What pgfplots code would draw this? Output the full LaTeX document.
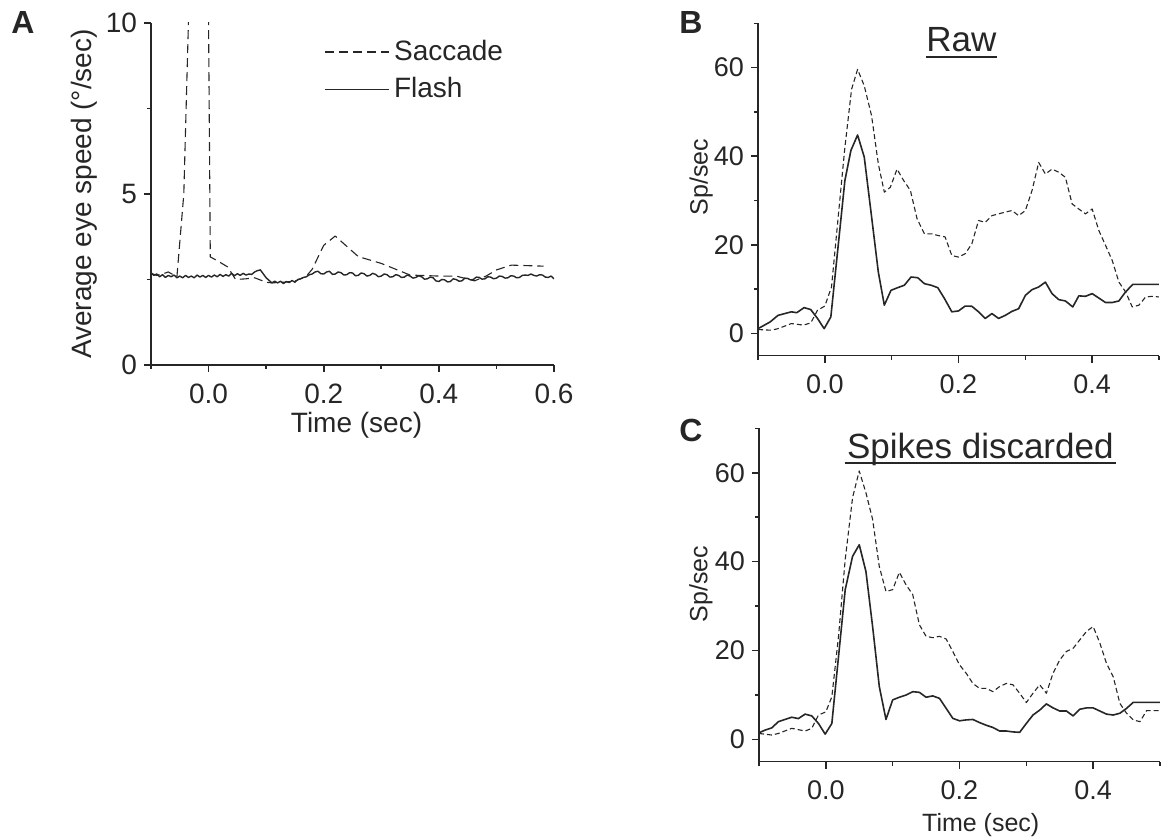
\documentclass[border=0pt]{standalone}
\usepackage{fontspec}
\setmainfont{Liberation Sans}
\usepackage{pgfplots}
\pgfplotsset{compat=1.18}
\definecolor{ink}{HTML}{262626}
\pgfplotsset{
  panel/.style={
    scale only axis,
    anchor=south west,
    axis lines=left,
    axis line style={-, line width=0.8pt, ink},
    tick align=outside,
    major tick length=3.5pt,
    minor tick length=2pt,
    tick style={ink, line width=0.8pt},
    /pgf/number format/assume math mode=true,
    xticklabel style={yshift=-2.5pt, /pgf/number format/.cd, fixed, fixed zerofill, precision=1},
    yticklabel style={/pgf/number format/.cd, fixed, precision=0},
    legend image code/.code={\draw[#1] (0pt,0pt) -- (32pt,0pt);},
  },
  sacA/.style={ink, line width=0.55pt, dash pattern=on 4.5pt off 2.5pt, line join=round},
  flaA/.style={ink, line width=0.7pt, line join=round},
  sacB/.style={ink, line width=0.55pt, dash pattern=on 2.5pt off 1.5pt, line join=round},
  flaB/.style={ink, line width=0.8pt, line join=round},
}
\begin{document}
\begin{tikzpicture}
\useasboundingbox (0,0) rectangle (584.5pt,420pt);

% ---------------- Panel A ----------------
\begin{axis}[panel,
  at={(75.5pt,237.5pt)}, width=201.5pt, height=171pt,
  xmin=-0.1, xmax=0.6, ymin=0, ymax=10,
  xtick={0,0.2,0.4,0.6}, minor xtick={-0.1,0.1,0.3,0.5},
  ytick={0,5,10}, minor ytick={2.5,7.5},
  ticklabel style={font=\fontsize{14}{16}\selectfont, text=ink},
  xlabel={Time (sec)}, ylabel={Average eye speed (°/sec)},
  label style={font=\fontsize{14}{16}\selectfont, text=ink},
  xlabel style={at={(axis description cs:0.51,-0.176)}, anchor=center},
  ylabel style={at={(axis description cs:-0.165,0.5)}, anchor=center},
  legend style={at={(axis description cs:0.43,0.962)}, anchor=north west,
    draw=none, fill=none, inner sep=0pt, row sep=3pt,
    font=\fontsize{14}{16}\selectfont, text=ink,
    /tikz/every even column/.append style={column sep=3pt}},
  legend cell align=left,
]
\addplot[sacA] table {
-0.100 2.68
-0.090 2.62
-0.080 2.66
-0.070 2.72
-0.055 2.58
-0.043 5.0
-0.035 10.0
-0.020 30
-0.005 30
0.000 10
0.003 3.16
0.015 3.05
0.033 2.87
0.047 2.50
0.065 2.52
0.080 2.55
0.100 2.42
0.110 2.40
0.130 2.42
0.150 2.45
0.170 2.60
0.180 2.80
0.200 3.50
0.220 3.77
0.260 3.17
0.300 2.97
0.350 2.63
0.400 2.60
0.430 2.60
0.462 2.46
0.482 2.60
0.500 2.78
0.526 2.92
0.582 2.89
};
\addlegendentry{Saccade}
\addplot[flaA] table {
-0.100 2.70
-0.095 2.62
-0.090 2.66
-0.085 2.58
-0.080 2.64
-0.075 2.56
-0.070 2.62
-0.065 2.58
-0.060 2.63
-0.055 2.55
-0.050 2.60
-0.045 2.55
-0.040 2.62
-0.035 2.56
-0.030 2.60
-0.025 2.55
-0.020 2.63
-0.015 2.57
-0.010 2.62
-0.005 2.56
0.000 2.62
0.005 2.57
0.010 2.63
0.015 2.58
0.020 2.65
0.025 2.59
0.030 2.64
0.035 2.60
0.040 2.68
0.045 2.61
0.050 2.67
0.055 2.62
0.060 2.68
0.065 2.63
0.070 2.66
0.075 2.65
0.080 2.72
0.085 2.76
0.090 2.78
0.100 2.55
0.110 2.40
0.115 2.45
0.120 2.40
0.125 2.45
0.130 2.38
0.135 2.44
0.140 2.41
0.145 2.47
0.150 2.42
0.155 2.50
0.160 2.52
0.165 2.56
0.170 2.58
0.175 2.64
0.180 2.66
0.185 2.72
0.190 2.74
0.195 2.67
0.200 2.66
0.205 2.72
0.210 2.74
0.215 2.65
0.220 2.66
0.225 2.72
0.230 2.70
0.235 2.63
0.240 2.64
0.245 2.70
0.250 2.69
0.255 2.61
0.260 2.62
0.265 2.69
0.270 2.67
0.275 2.60
0.280 2.62
0.285 2.68
0.290 2.65
0.295 2.58
0.300 2.60
0.305 2.66
0.310 2.64
0.315 2.57
0.320 2.58
0.325 2.64
0.330 2.62
0.335 2.56
0.340 2.57
0.345 2.63
0.350 2.60
0.355 2.54
0.360 2.56
0.365 2.61
0.370 2.58
0.375 2.51
0.380 2.52
0.385 2.57
0.390 2.55
0.395 2.46
0.400 2.44
0.405 2.50
0.410 2.49
0.415 2.43
0.420 2.44
0.425 2.52
0.430 2.50
0.435 2.45
0.440 2.46
0.445 2.54
0.450 2.53
0.455 2.49
0.460 2.50
0.465 2.57
0.470 2.56
0.475 2.51
0.480 2.52
0.485 2.58
0.490 2.57
0.495 2.52
0.500 2.54
0.505 2.60
0.510 2.59
0.515 2.54
0.520 2.55
0.525 2.61
0.530 2.60
0.535 2.55
0.540 2.56
0.545 2.62
0.550 2.63
0.555 2.62
0.560 2.66
0.565 2.62
0.570 2.60
0.575 2.64
0.580 2.63
0.585 2.57
0.590 2.56
0.595 2.60
0.600 2.52
};
\addlegendentry{Flash}
\end{axis}

% ---------------- Panel B ----------------
\begin{axis}[panel,
  at={(379pt,242.15pt)}, width=200.5pt, height=166.2pt,
  xmin=-0.1, xmax=0.5, ymin=-5, ymax=70,
  xtick={0,0.2,0.4}, minor xtick={-0.1,0.1,0.3,0.5},
  ytick={0,20,40,60}, minor ytick={10,30,50,70},
  ticklabel style={font=\fontsize{13.5}{16}\selectfont, text=ink},
  ylabel={Sp/sec},
  label style={font=\fontsize{12.5}{14}\selectfont, text=ink},
  ylabel style={at={(axis description cs:-0.142,0.538)}, anchor=center},
]
\addplot[sacB] table {
-0.100 0.9
-0.080 0.75
-0.070 1.1
-0.050 2.25
-0.032 1.9
-0.021 2.4
-0.011 5.25
0.000 6.2
0.010 10.5
0.020 26.3
0.030 42.0
0.040 55.1
0.049 59.6
0.059 55.9
0.070 49.1
0.080 38.3
0.089 31.9
0.098 33.0
0.108 37.1
0.118 34.5
0.128 32.3
0.138 25.9
0.149 22.5
0.160 22.5
0.170 22.1
0.180 21.8
0.190 17.6
0.200 17.25
0.210 18.0
0.220 20.25
0.230 25.5
0.240 25.1
0.250 26.6
0.260 27.0
0.270 27.4
0.280 27.75
0.290 26.6
0.300 27.75
0.310 32.25
0.320 38.6
0.330 36.0
0.340 37.1
0.350 36.4
0.360 35.25
0.370 29.25
0.380 28.1
0.390 27.0
0.400 28.1
0.410 23.25
0.420 19.9
0.430 16.5
0.440 11.6
0.450 9.4
0.460 6.0
0.470 6.4
0.480 8.25
0.490 8.4
0.500 8.25
};
\addplot[flaB] table {
-0.100 1.1
-0.082 2.6
-0.070 4.1
-0.060 4.5
-0.050 4.9
-0.042 4.7
-0.031 5.85
-0.021 5.4
-0.011 3.4
-0.001 1.1
0.009 3.75
0.030 34.5
0.039 41.3
0.049 44.8
0.059 39.8
0.070 26.3
0.080 13.9
0.089 6.4
0.099 9.75
0.109 10.35
0.119 10.9
0.129 12.75
0.139 12.6
0.149 11.25
0.159 10.9
0.169 10.35
0.179 7.9
0.190 4.9
0.200 5.1
0.210 6.2
0.220 6.15
0.230 4.9
0.240 3.4
0.250 4.5
0.260 3.4
0.270 4.1
0.280 5.0
0.290 5.6
0.300 8.6
0.310 9.9
0.320 10.5
0.330 11.6
0.340 9.0
0.350 7.65
0.360 7.35
0.371 6.0
0.380 8.5
0.390 8.4
0.400 9.0
0.410 8.0
0.420 7.0
0.430 7.0
0.440 7.35
0.450 9.4
0.461 11.1
0.500 11.1
};
\node[inner sep=0pt, anchor=base, font=\fontsize{17.5}{20}\selectfont, text=ink] (raw) at (axis description cs:0.507,0.9146) {Raw};
\end{axis}
\draw[ink, line width=1.3pt] ([yshift=-2.6pt]raw.base west) -- ([yshift=-2.6pt]raw.base east);

% ---------------- Panel C ----------------
\begin{axis}[panel,
  at={(379.5pt,39.15pt)}, width=200.5pt, height=166.7pt,
  xmin=-0.1, xmax=0.5, ymin=-5, ymax=70,
  xtick={0,0.2,0.4}, minor xtick={-0.1,0.1,0.3,0.5},
  ytick={0,20,40,60}, minor ytick={10,30,50,70},
  ticklabel style={font=\fontsize{13.5}{16}\selectfont, text=ink},
  xlabel={Time (sec)}, ylabel={Sp/sec},
  label style={font=\fontsize{12.5}{14}\selectfont, text=ink},
  xlabel style={at={(axis description cs:0.553,-0.19)}, anchor=center},
  ylabel style={at={(axis description cs:-0.145,0.533)}, anchor=center},
]
\addplot[sacB] table {
-0.100 1.35
-0.081 1.0
-0.071 1.35
-0.051 2.5
-0.031 1.9
-0.021 2.5
-0.011 5.5
0.000 6.2
0.009 9.6
0.019 23.2
0.029 40.5
0.040 54.4
0.050 60.4
0.060 55.5
0.070 49.5
0.080 38.9
0.090 33.3
0.100 33.7
0.110 37.6
0.120 34.8
0.130 32.6
0.140 25.8
0.150 23.2
0.160 22.9
0.170 23.2
0.180 22.6
0.190 19.8
0.200 16.8
0.210 14.9
0.220 12.6
0.230 11.5
0.240 11.5
0.250 10.75
0.260 11.9
0.270 12.6
0.280 12.3
0.290 10.4
0.300 8.3
0.310 10.4
0.320 12.3
0.330 10.4
0.340 14.9
0.350 17.9
0.360 19.8
0.370 20.5
0.380 22.4
0.390 24.3
0.400 25.4
0.410 21.7
0.420 17.1
0.430 14.1
0.440 8.1
0.450 5.9
0.460 4.4
0.470 4.0
0.480 6.5
0.500 6.5
};
\addplot[flaB] table {
-0.100 1.5
-0.091 2.1
-0.081 2.6
-0.071 4.0
-0.061 4.5
-0.051 5.0
-0.041 4.7
-0.031 5.7
-0.021 5.3
-0.011 3.6
-0.001 1.2
0.009 3.6
0.029 33.7
0.040 41.2
0.050 43.8
0.060 37.8
0.070 25.4
0.080 11.9
0.090 4.5
0.100 8.9
0.110 9.5
0.120 10.0
0.130 10.75
0.140 10.6
0.150 9.5
0.160 9.8
0.170 9.25
0.180 7.0
0.190 4.75
0.200 4.2
0.210 4.4
0.220 4.5
0.230 3.8
0.240 3.2
0.250 2.7
0.260 1.9
0.270 1.9
0.280 1.7
0.290 1.6
0.300 3.6
0.310 5.5
0.320 6.6
0.330 8.0
0.340 7.1
0.350 6.4
0.360 6.4
0.370 5.3
0.380 6.8
0.390 7.1
0.400 7.1
0.410 6.4
0.420 5.7
0.430 5.5
0.440 5.9
0.450 7.0
0.460 8.35
0.500 8.35
};
\node[inner sep=0pt, anchor=base, font=\fontsize{17.5}{20}\selectfont, text=ink] (spk) at (axis description cs:0.552,0.910) {Spikes discarded};
\end{axis}
\draw[ink, line width=1.3pt] ([yshift=-2.3pt,xshift=-1pt]spk.base west) -- ([yshift=-2.3pt,xshift=1pt]spk.base east);

% panel letters
\node[inner sep=0pt, anchor=base west, font=\fontsize{16}{18}\bfseries\selectfont, text=ink] at (5.5pt,403.3pt) {A};
\node[inner sep=0pt, anchor=base west, font=\fontsize{16}{18}\bfseries\selectfont, text=ink] at (339.5pt,403.3pt) {B};
\node[inner sep=0pt, anchor=base west, font=\fontsize{16}{18}\bfseries\selectfont, text=ink] at (339.5pt,199.2pt) {C};
\end{tikzpicture}
\end{document}
